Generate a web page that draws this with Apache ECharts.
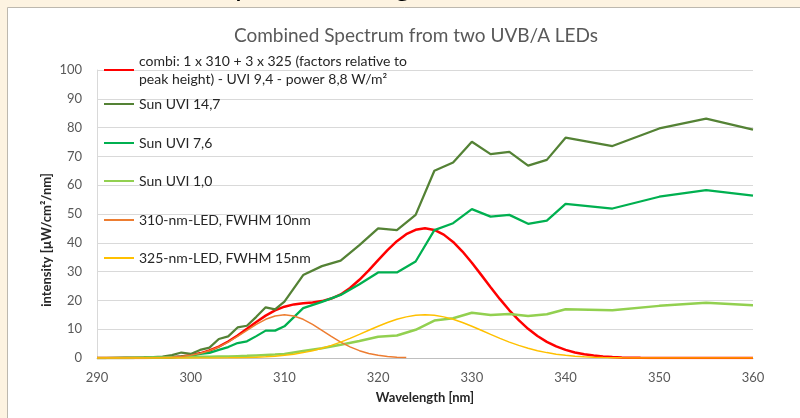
<!DOCTYPE html>
<html>
<head>
<meta charset="utf-8">
<style>
  html, body { margin: 0; padding: 0; background: #fdf3e1; }
  #chart { width: 800px; height: 418px; }
</style>
<script src="https://cdn.jsdelivr.net/npm/echarts@6/dist/echarts.min.js"></script>
</head>
<body>
<div id="chart"></div>
<script>
// sun spectra: 1 nm steps up to 310, then 2 nm, then 5 nm
const sunNm = [290, 291, 292, 293, 294, 295, 296, 297, 298, 299, 300, 301, 302, 303, 304, 305, 306, 307, 308, 309, 310,
  312, 314, 316, 318, 320, 322, 324, 326, 328, 330, 332, 334, 336, 338, 340, 345, 350, 355, 360];
const sun147 = [0, 0, 0.05, 0.1, 0.15, 0.2, 0.3, 0.5, 1.0, 1.9, 1.4, 2.8, 3.6, 6.6, 7.5, 10.6, 11.2, 14.3, 17.6, 16.9, 19.6,
  28.8, 31.9, 33.8, 39.2, 45, 44.4, 49.7, 65, 67.9, 75.1, 70.8, 71.6, 66.8, 68.8, 76.5, 73.6, 79.7, 83.1, 79.3];
const sun76 = [0, 0, 0, 0, 0, 0.05, 0.1, 0.15, 0.3, 0.5, 0.7, 1.4, 1.8, 2.8, 3.8, 5.2, 5.8, 7.6, 9.5, 9.5, 11,
  17.3, 19.5, 21.9, 25.6, 29.7, 29.7, 33.5, 44.4, 46.8, 51.7, 49.1, 49.7, 46.6, 47.7, 53.5, 51.9, 56, 58.3, 56.4];
const sun10 = [0, 0, 0, 0, 0.05, 0.1, 0.15, 0.2, 0.25, 0.3, 0.35, 0.4, 0.45, 0.5, 0.55, 0.65, 0.75, 0.9, 1.05, 1.2, 1.4,
  2.4, 3.4, 4.6, 5.9, 7.4, 7.8, 9.8, 13, 13.8, 15.7, 14.9, 15.3, 14.6, 15.2, 16.9, 16.6, 18.1, 19.2, 18.3];

// LED spectra: 1 nm steps from 290
const ledNm = [290, 291, 292, 293, 294, 295, 296, 297, 298, 299, 300, 301, 302, 303, 304, 305, 306, 307, 308, 309,
  310, 311, 312, 313, 314, 315, 316, 317, 318, 319, 320, 321, 322, 323, 324, 325, 326, 327, 328, 329,
  330, 331, 332, 333, 334, 335, 336, 337, 338, 339, 340, 341, 342, 343, 344, 345, 346, 347, 348, 349,
  350, 351, 352, 353, 354, 355, 356, 357, 358, 359, 360];
const combi = [0, 0, 0, 0, 0.01, 0.03, 0.07, 0.14, 0.28, 0.52, 0.94, 1.62, 2.61, 3.98, 5.73, 7.83, 10.16, 12.53, 14.72, 16.51,
  17.82, 18.61, 19.04, 19.31, 19.76, 20.64, 22.08, 24.29, 27.15, 30.45, 34.0, 37.48, 40.57, 42.98, 44.53, 45.03, 44.46, 42.84, 40.29, 36.96,
  33.06, 28.86, 24.6, 20.43, 16.56, 13.14, 10.14, 7.62, 5.61, 4.02, 2.82, 1.92, 1.29, 0.84, 0.54, 0.33, 0.21, 0.12, 0.06, 0.03,
  0, 0, 0, 0, 0, 0, 0, 0, 0, 0, 0];
const led310 = [0, 0, 0, 0, 0.01, 0.03, 0.07, 0.14, 0.28, 0.52, 0.94, 1.59, 2.55, 3.86, 5.52, 7.5, 9.62, 11.69, 13.43, 14.59,
  15, 14.59, 13.43, 11.69, 9.62, 7.5, 5.52, 3.86, 2.55, 1.59, 0.94, 0.52, 0.28, 0.14];
const led325 = [0, 0, 0, 0, 0, 0, 0, 0, 0, 0, 0, 0.01, 0.02, 0.04, 0.07, 0.11, 0.18, 0.28, 0.43, 0.64,
  0.94, 1.34, 1.87, 2.54, 3.38, 4.38, 5.52, 6.81, 8.2, 9.62, 11.02, 12.32, 13.43, 14.28, 14.82, 15, 14.82, 14.28, 13.43, 12.32,
  11.02, 9.62, 8.2, 6.81, 5.52, 4.38, 3.38, 2.54, 1.87, 1.34, 0.94, 0.64, 0.43, 0.28, 0.18, 0.11, 0.07, 0.04, 0.02, 0.01,
  0, 0, 0, 0, 0, 0, 0, 0, 0, 0, 0];

const names = [
  'combi: 1 x 310 + 3 x 325 (factors relative to\npeak height) - UVI 9,4 - power 8,8 W/m²',
  'Sun UVI 14,7',
  'Sun UVI 7,6',
  'Sun UVI 1,0',
  '310-nm-LED, FWHM 10nm',
  '325-nm-LED, FWHM 15nm'
];
const colors = ['#ff0000', '#548235', '#00b050', '#92d050', '#ed7d31', '#ffc000'];
const widths = [2.5, 2.25, 2.25, 2.5, 1.5, 1.5];
const legendTops = [43, 95, 134, 172, 211, 249];

const font = 'Lato, "Open Sans", sans-serif';

function pairs(xs, ys) {
  return ys.map((v, i) => [xs[i], v]);
}

const seriesData = [
  pairs(ledNm, combi),
  pairs(sunNm, sun147),
  pairs(sunNm, sun76),
  pairs(sunNm, sun10),
  pairs(ledNm, led310),
  pairs(ledNm, led325)
];

const chart = echarts.init(document.getElementById('chart'));

const option = {
  backgroundColor: '#fdf3e1',
  animation: false,
  color: colors,
  title: {
    text: 'Combined Spectrum from two UVB/A LEDs',
    left: 411,
    top: 21,
    textAlign: 'center',
    textStyle: { fontFamily: font, fontSize: 19, fontWeight: 'normal', color: '#595959' }
  },
  legend: names.map((n, i) => ({
    data: [n],
    left: 103,
    top: legendTops[i],
    padding: 0,
    itemWidth: 30,
    itemHeight: 14,
    selectedMode: false,
    itemStyle: { color: 'transparent', borderWidth: 0, opacity: 0 },
    textStyle: i === 0
      ? { fontFamily: font, fontSize: 14, color: '#262626', lineHeight: 18, padding: [18, 0, 0, 0] }
      : { fontFamily: font, fontSize: 14, color: '#262626', lineHeight: 18 }
  })),
  grid: { left: 97, right: 47, top: 70, bottom: 60 },
  xAxis: {
    type: 'value',
    min: 290,
    max: 360,
    interval: 10,
    name: 'Wavelength [nm]',
    nameLocation: 'middle',
    nameGap: 33,
    nameTextStyle: { fontFamily: font, fontSize: 13, fontWeight: 'bold', color: '#262626' },
    axisLine: { lineStyle: { color: '#bfbfbf', width: 1 } },
    axisTick: { show: false },
    axisLabel: { fontFamily: font, fontSize: 13, color: '#595959', margin: 13 },
    splitLine: { show: false }
  },
  yAxis: {
    type: 'value',
    min: 0,
    max: 100,
    interval: 10,
    axisLine: { show: true, lineStyle: { color: '#d9d9d9', width: 1 } },
    axisTick: { show: false },
    axisLabel: { fontFamily: font, fontSize: 13, color: '#595959', margin: 15 },
    splitLine: { lineStyle: { color: '#d9d9d9', width: 1 } }
  },
  graphic: [
    {
      type: 'text',
      z: -10,
      left: 10,
      top: -29,
      style: { text: 'Combined UVB spectrum range', fontFamily: font, fontSize: 30, fill: '#000' }
    },
    {
      type: 'rect',
      z: -5,
      shape: { x: 7.5, y: 7.5, width: 820, height: 430 },
      style: { fill: '#ffffff', stroke: '#bdb8ae', lineWidth: 1 }
    },
    {
      type: 'text',
      x: 47,
      y: 240,
      rotation: Math.PI / 2,
      style: {
        text: 'intensity [µW/cm²/nm]',
        fontFamily: font,
        fontSize: 13,
        fontWeight: 'bold',
        fill: '#262626',
        align: 'center',
        verticalAlign: 'middle'
      }
    }
  ],
  series: names.map((n, i) => ({
    name: n,
    type: 'line',
    data: seriesData[i],
    showSymbol: false,
    symbol: 'none',
    smooth: false,
    lineStyle: { color: colors[i], width: widths[i] },
    itemStyle: { color: colors[i] }
  }))
};

chart.setOption(option);
</script>
</body>
</html>
